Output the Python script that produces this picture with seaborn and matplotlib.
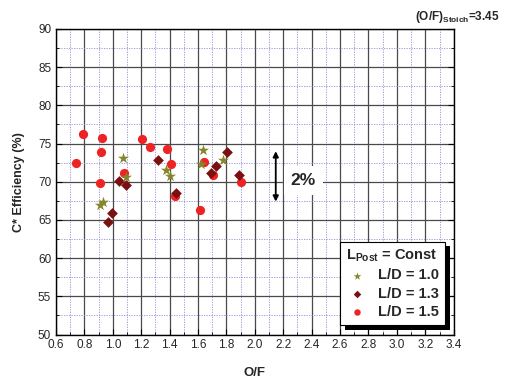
import numpy as np
import pandas as pd
import seaborn as sns
import matplotlib.pyplot as plt
import matplotlib.patheffects as pe
from matplotlib.ticker import MultipleLocator

# data: O/F vs C* efficiency
of_10 = [0.91, 0.93, 1.074, 1.095, 1.372, 1.405, 1.633, 1.621, 1.778]
eff_10 = [66.9, 67.3, 73.1, 70.6, 71.5, 70.8, 74.1, 72.3, 72.8]

of_13 = [1.041, 1.095, 0.997, 0.964, 1.316, 1.447, 1.689, 1.729, 1.802, 1.889]
eff_13 = [70.1, 69.6, 65.9, 64.7, 72.8, 68.5, 71.2, 72.0, 73.9, 70.9]

of_15 = [0.788, 0.924, 0.917, 0.739, 0.907, 1.079, 1.208, 1.264, 1.382,
         1.412, 1.438, 1.614, 1.644, 1.706, 1.905]
eff_15 = [76.2, 75.7, 73.9, 72.5, 69.9, 71.2, 75.6, 74.5, 74.3,
          72.3, 68.1, 66.3, 72.6, 70.9, 70.0]

series = ["L/D = 1.0", "L/D = 1.3", "L/D = 1.5"]
colors = {"L/D = 1.0": "#86862a", "L/D = 1.3": "#7a1010", "L/D = 1.5": "#ee2424"}
markers = {"L/D = 1.0": "*", "L/D = 1.3": "D", "L/D = 1.5": "o"}
sizes = {"L/D = 1.0": 70, "L/D = 1.3": 30, "L/D = 1.5": 44}

arrow_x, arrow_lo, arrow_hi = 2.147, 67.4, 74.0
note_x, note_y = 2.34, 70.2

df = pd.concat([
    pd.DataFrame({"of": of_10, "eff": eff_10, "case": series[0]}),
    pd.DataFrame({"of": of_13, "eff": eff_13, "case": series[1]}),
    pd.DataFrame({"of": of_15, "eff": eff_15, "case": series[2]}),
])

sns.set_style("white")
plt.rcParams["font.family"] = ["Liberation Sans", "DejaVu Sans"]
plt.rcParams["mathtext.fontset"] = "custom"
plt.rcParams["mathtext.rm"] = "Liberation Sans:bold"
plt.rcParams["mathtext.bf"] = "Liberation Sans:bold"

fig = plt.figure(figsize=(5.07, 3.82), dpi=100)
ax = fig.add_axes([0.1105, 0.1243, 0.7844, 0.7998])

# red first, then diamonds, stars on top
for name in [series[2], series[1], series[0]]:
    sub = df[df["case"] == name]
    sns.scatterplot(data=sub, x="of", y="eff", ax=ax, color=colors[name],
                    marker=markers[name], s=sizes[name], linewidth=0,
                    label=name, zorder=3)

ax.set_xlim(0.6, 3.4)
ax.set_ylim(50, 90)
ax.xaxis.set_major_locator(MultipleLocator(0.2))
ax.xaxis.set_minor_locator(MultipleLocator(0.1))
ax.yaxis.set_major_locator(MultipleLocator(5))
ax.yaxis.set_minor_locator(MultipleLocator(2.5))
ax.xaxis.set_major_formatter(plt.FuncFormatter(lambda v, p: f"{v:.1f}"))

ax.grid(which="major", color="#4a4a4a", lw=0.9, ls="-", zorder=0)
ax.grid(which="minor", color="#8f8fd8", lw=0.6, ls=(0, (1.5, 1.5)), zorder=0)
ax.set_axisbelow(True)

ax.tick_params(which="both", direction="in", top=False, right=True,
               left=True, bottom=True, labelsize=8.5, color="k")
ax.tick_params(which="major", length=4, width=0.8)
ax.tick_params(which="minor", length=2.5, width=0.6)
for s in ax.spines.values():
    s.set_color("k")
    s.set_linewidth(1.0)

ax.set_xlabel("O/F", fontsize=9.5, fontweight="bold", labelpad=11)
ax.set_ylabel("C* Efficiency (%)", fontsize=9, fontweight="bold", labelpad=9)

ax.annotate("", xy=(arrow_x, arrow_hi), xytext=(arrow_x, arrow_lo),
            arrowprops=dict(arrowstyle="<|-|>", color="k", lw=1.3,
                            mutation_scale=8, shrinkA=0, shrinkB=0))
ax.text(note_x, note_y, "2%", fontsize=12.5, fontweight="bold",
        ha="center", va="center",
        bbox=dict(boxstyle="square,pad=0.4", fc="white", ec="none"))

handles, labels = ax.get_legend_handles_labels()
order = [labels.index(n) for n in series]
leg = ax.legend([handles[i] for i in order], [labels[i] for i in order],
                title=r"L$_{\rm Post}$ = Const", loc="lower right",
                bbox_to_anchor=(0.978, 0.031), borderaxespad=0,
                fancybox=False, frameon=True, fontsize=10.5,
                title_fontsize=10.5, handletextpad=0.7, labelspacing=0.3,
                borderpad=0.4, markerscale=0.7, handlelength=1.5,
                alignment="left")
leg.get_title().set_fontweight("bold")
for t in leg.get_texts():
    t.set_fontweight("bold")
frame = leg.get_frame()
frame.set_edgecolor("k")
frame.set_linewidth(0.8)
frame.set_alpha(1)
frame.set_path_effects([pe.SimplePatchShadow(offset=(3.5, -3.5), shadow_rgbFace="k", alpha=1),
                        pe.Normal()])

fig.text(0.985, 0.955, r"(O/F)$_{\rm Stoich}$=3.45", fontsize=8.5,
         fontweight="bold", ha="right", va="center")

fig.savefig("out.png", dpi=100, facecolor="white")
